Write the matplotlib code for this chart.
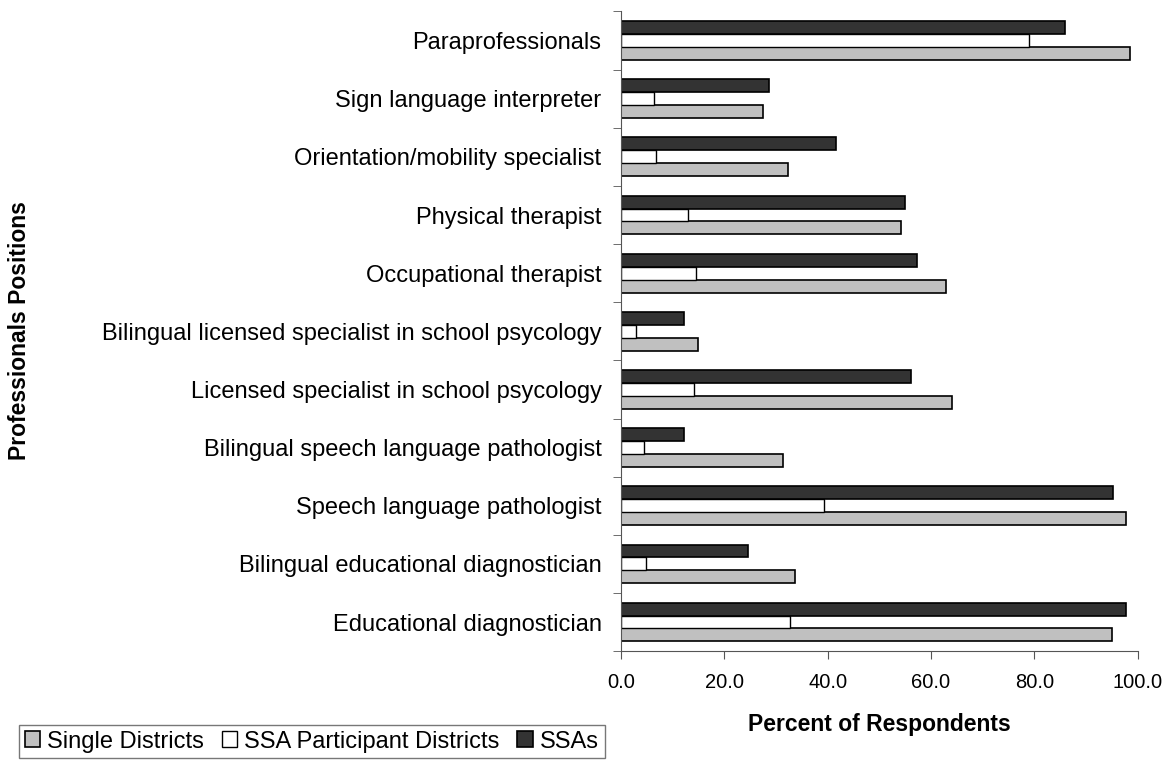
import numpy as np
import matplotlib.pyplot as plt
from matplotlib.ticker import FixedLocator

plt.rcParams['font.family'] = ['Liberation Sans', 'DejaVu Sans']

# categories listed bottom to top
positions = ["Educational diagnostician",
             "Bilingual educational diagnostician",
             "Speech language pathologist",
             "Bilingual speech language pathologist",
             "Licensed specialist in school psycology",
             "Bilingual licensed specialist in school psycology",
             "Occupational therapist",
             "Physical therapist",
             "Orientation/mobility specialist",
             "Sign language interpreter",
             "Paraprofessionals"]

single_districts = [95.1, 33.6, 97.7, 31.3, 64.1, 14.9, 62.9, 54.2, 32.4, 27.4, 98.5]
ssa_participants = [32.7, 4.9, 39.3, 4.5, 14.1, 2.9, 14.5, 12.9, 6.8, 6.4, 78.9]
ssas = [97.7, 24.5, 95.2, 12.2, 56.2, 12.2, 57.2, 55.0, 41.6, 28.7, 85.9]

y = np.arange(len(positions))
h = 0.222

fig = plt.figure(figsize=(11.74, 7.66), dpi=100)
ax = fig.add_axes([0.529, 0.15, 0.44, 0.835])

ax.barh(y - h, single_districts, height=h, color="#c0c0c0", edgecolor="black",
        linewidth=1.2, label="Single Districts")
ax.barh(y, ssa_participants, height=h, color="white", edgecolor="black",
        linewidth=1.0, label="SSA Participant Districts")
ax.barh(y + h, ssas, height=h, color="#333333", edgecolor="black",
        linewidth=1.2, label="SSAs")

ax.set_xlim(0, 100)
ax.set_ylim(-0.5, len(positions) - 0.5)
ax.set_xticks(np.arange(0, 101, 20))
ax.set_xticklabels([f"{v:.1f}" for v in np.arange(0, 101, 20)], fontsize=14.5)
ax.set_yticks(y)
ax.set_yticklabels(positions, fontsize=17)
ax.yaxis.set_minor_locator(FixedLocator(np.arange(-0.5, len(positions), 1)))
ax.tick_params(axis="y", which="major", length=0, pad=14)
ax.tick_params(axis="y", which="minor", length=6, direction="out", color="#555555")
ax.tick_params(axis="x", length=6, direction="out", color="#555555", pad=10)

for s in ["top", "right"]:
    ax.spines[s].set_visible(False)
ax.spines["left"].set_color("#555555")
ax.spines["bottom"].set_color("#555555")

ax.set_xlabel("Percent of Respondents", fontsize=16.5, fontweight="bold", labelpad=15)
fig.text(0.017, 0.568, "Professionals Positions", rotation=90, fontsize=16.5,
         fontweight="bold", ha="center", va="center")

handles, labels = ax.get_legend_handles_labels()
fig.legend(handles, labels, loc="upper left", bbox_to_anchor=(0.016, 0.054),
           ncol=3, fontsize=17, frameon=True, fancybox=False, edgecolor="#555555",
           handlelength=0.65, handleheight=0.65, handletextpad=0.3, columnspacing=0.75,
           borderpad=0.25, borderaxespad=0)

fig.savefig("out.png", dpi=100)
